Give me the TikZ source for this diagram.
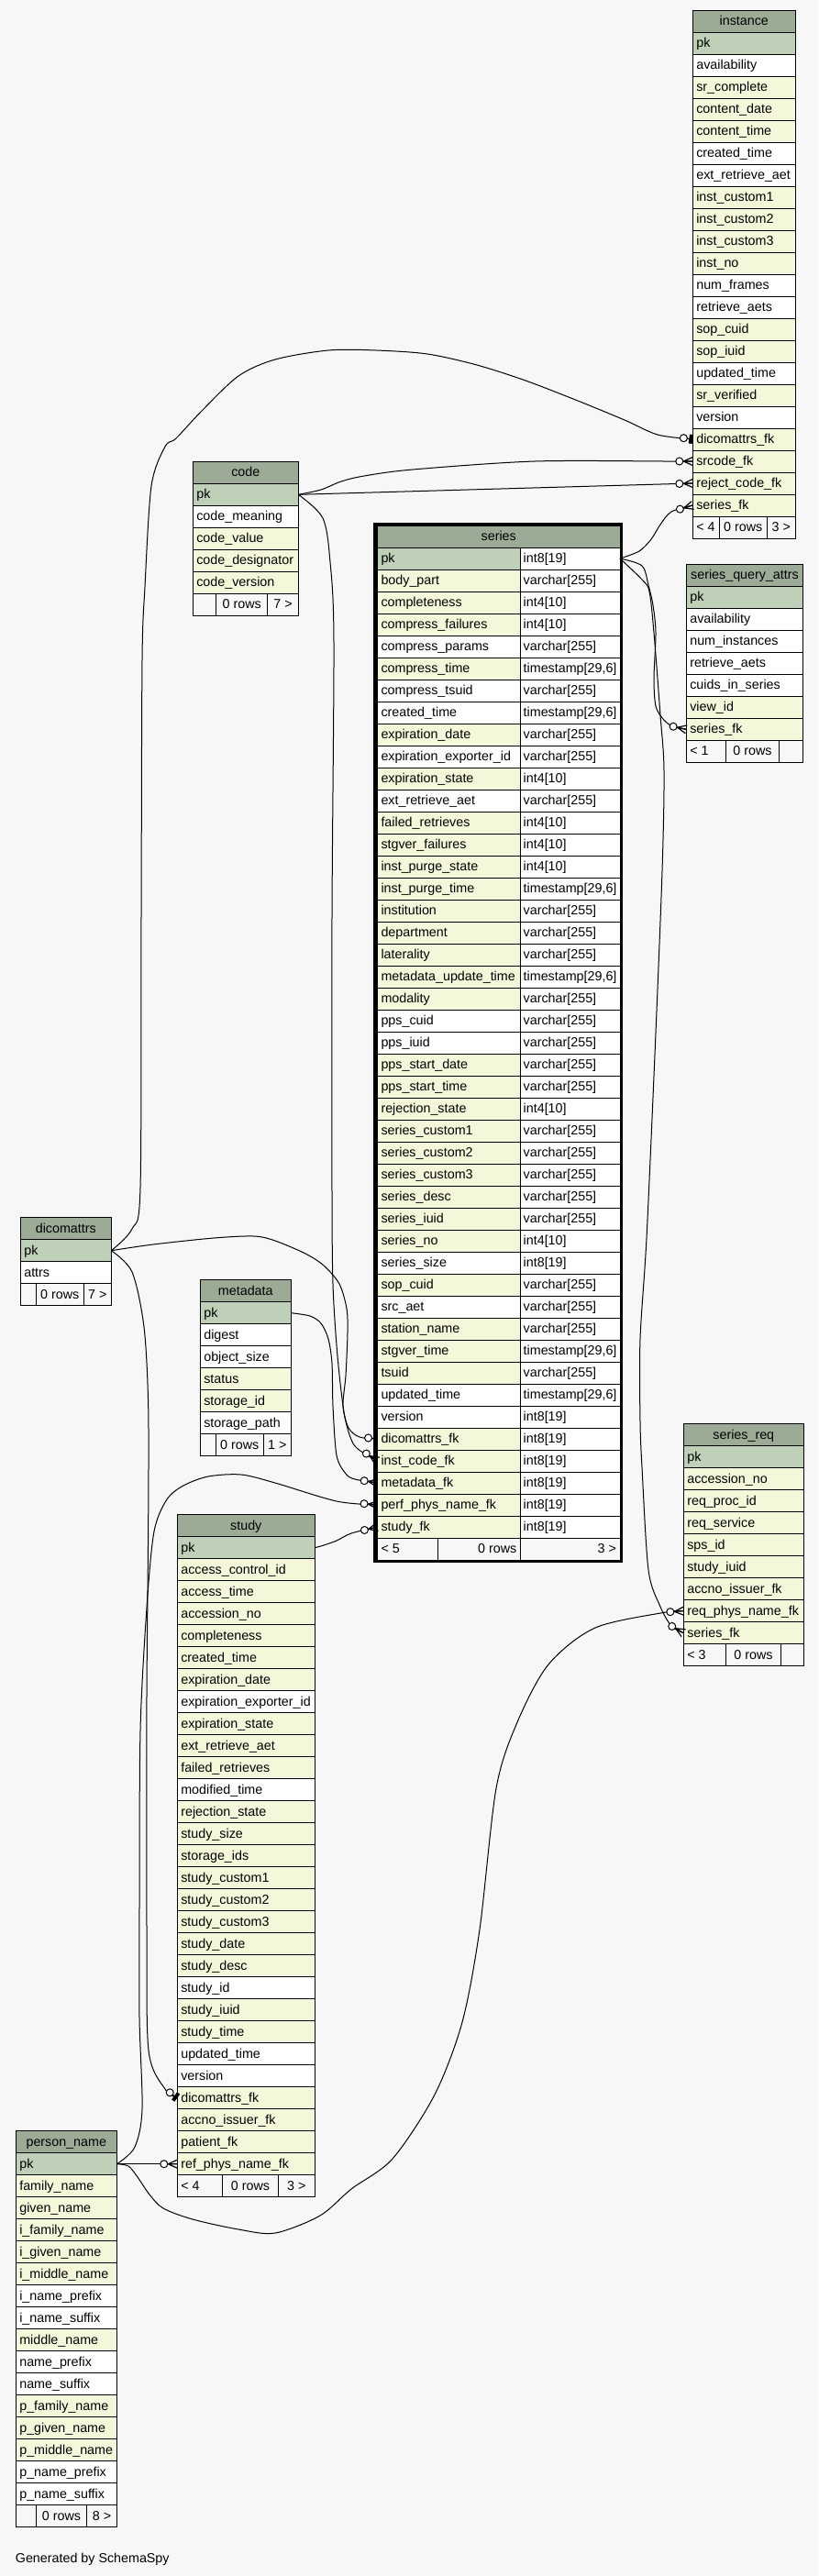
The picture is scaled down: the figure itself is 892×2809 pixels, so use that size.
\documentclass[tikz,border=0pt]{standalone}
\usepackage{fontspec}
\setmainfont{Liberation Sans}
\usetikzlibrary{calc}
\definecolor{bg}{HTML}{F7F7F7}
\definecolor{cH}{HTML}{9BAB96}
\definecolor{cG}{HTML}{BED1B8}
\definecolor{cY}{HTML}{F4F7DA}
\definecolor{cW}{HTML}{FFFFFF}
\tikzset{
 tcell/.style={draw=black, line width=1pt, anchor=north west, inner xsep=4pt, inner ysep=0pt, outer sep=0pt, minimum height=24pt, text height=10.3pt, text depth=1.7pt, font=\fontsize{14.3}{17}\selectfont},
 hcell/.style={tcell, fill=cH},
 fcell/.style={tcell, fill=bg},
 edge/.style={draw=black, line width=1pt},
 mline/.style={draw=black, line width=1.2pt},
}
\def\tsc{timestamp[29,6]}
\newcommand\dbtable[6]{%
 \pgfmathsetmacro\tabw{#4-#3}%
 \pgfmathsetmacro\tabi{#4-#3-8}%
 \node[hcell, minimum width=\tabw pt] (#1-head) at (#3,#5) {\makebox[\tabi pt][c]{#2}};%
 \foreach \rn/\rc [count=\ri] in {#6} {%
   \node[tcell, fill=\rc, minimum width=\tabw pt] (#1-\rn) at (#3,{#5+24*\ri}) {\makebox[\tabi pt][l]{\rn}};%
 }%
}
\newcommand\dbfoot[9]{%
 \pgfmathsetmacro\fwa{#3-#2}\pgfmathsetmacro\fwb{#4-#3}\pgfmathsetmacro\fwc{#5-#4}%
 \pgfmathsetmacro\fia{#3-#2-8}\pgfmathsetmacro\fib{#4-#3-8}\pgfmathsetmacro\fic{#5-#4-8}%
 \node[fcell, minimum width=\fwa pt] (#1-f1) at (#2,#6) {\makebox[\fia pt][l]{#7}};%
 \node[fcell, minimum width=\fwb pt] (#1-f2) at (#3,#6) {\makebox[\fib pt][c]{#8}};%
 \node[fcell, minimum width=\fwc pt] (#1-f3) at (#4,#6) {\makebox[\fic pt][c]{#9}};%
}
\newcommand\crowodot[2]{%
 \path ($(#1)!10pt!(#2)$) coordinate (mkA) ($(#1)!14.5pt!(#2)$) coordinate (mkC)
   ($(#1)!4.5pt!90:(#2)$) coordinate (mkP) ($(#1)!4.5pt!-90:(#2)$) coordinate (mkQ) (#1) coordinate (mkE);
 \draw[mline] (mkP) -- (mkA) -- (mkQ) (mkA) -- (mkE);
 \draw[edge, fill=white] (mkC) circle[radius=4pt];
}
\newcommand\teeodot[2]{%
 \path ($(#1)!10pt!(#2)$) coordinate (mkC) ($(#1)!4pt!(#2)$) coordinate (mkB) (#1) coordinate (mkE);
 \path ($(mkE)!5pt!90:(#2)$) coordinate (mkP) ($(mkE)!5pt!-90:(#2)$) coordinate (mkQ)
       ($(mkB)!5pt!90:(#2)$) coordinate (mkP2) ($(mkB)!5pt!-90:(#2)$) coordinate (mkQ2);
 \fill[black] (mkP) -- (mkQ) -- (mkQ2) -- (mkP2) -- cycle;
 \draw[edge] (mkB) -- (mkC);
 \draw[edge, fill=white] (mkC) circle[radius=4pt];
}
\begin{document}
\catcode`\_=12
\begin{tikzpicture}[x=1pt,y=-1pt]
\useasboundingbox (0,0) rectangle (892,2809);
\fill[bg] (0,0) rectangle (892,2809);

% ---------------- tables ----------------
\dbtable{instance}{instance}{755.3}{867.3}{11}{pk/cG, availability/cW, sr_complete/cY, content_date/cY, content_time/cY, created_time/cW, ext_retrieve_aet/cW, inst_custom1/cY, inst_custom2/cY, inst_custom3/cY, inst_no/cY, num_frames/cW, retrieve_aets/cW, sop_cuid/cY, sop_iuid/cY, updated_time/cW, sr_verified/cY, version/cW, dicomattrs_fk/cY, srcode_fk/cY, reject_code_fk/cY, series_fk/cY}
\dbfoot{instance}{755.3}{784.3}{836.3}{867.3}{563}{< 4}{0 rows}{3 >}

\dbtable{code}{code}{210.3}{325.3}{503.3}{pk/cG, code_meaning/cW, code_value/cY, code_designator/cY, code_version/cY}
\dbfoot{code}{210.3}{235.7}{291.7}{325.3}{647.3}{}{0 rows}{7 >}

\dbtable{series_query_attrs}{series_query_attrs}{748.3}{875.7}{615.3}{pk/cG, availability/cW, num_instances/cW, retrieve_aets/cW, cuids_in_series/cW, view_id/cY, series_fk/cY}
\dbfoot{series_query_attrs}{748.3}{791.3}{849.7}{875.7}{807.3}{< 1}{0 rows}{}

\dbtable{dicomattrs}{dicomattrs}{22.3}{121.3}{1327.7}{pk/cG, attrs/cW}
\dbfoot{dicomattrs}{22.3}{39.3}{91.3}{121.3}{1399.7}{}{0 rows}{7 >}

\dbtable{metadata}{metadata}{218.3}{317.3}{1395.7}{pk/cG, digest/cW, object_size/cW, status/cY, storage_id/cY, storage_path/cW}
\dbfoot{metadata}{218.3}{235.3}{287.3}{317.3}{1563.7}{}{0 rows}{1 >}

\dbtable{series_req}{series_req}{745.3}{876.3}{1552.7}{pk/cG, accession_no/cY, req_proc_id/cY, req_service/cY, sps_id/cY, study_iuid/cY, accno_issuer_fk/cY, req_phys_name_fk/cY, series_fk/cY}
\dbfoot{series_req}{745.3}{791.7}{851.3}{876.3}{1792.7}{< 3}{0 rows}{}

\dbtable{study}{study}{193.3}{343.3}{1651.7}{pk/cG, access_control_id/cY, access_time/cY, accession_no/cY, completeness/cY, created_time/cY, expiration_date/cY, expiration_exporter_id/cW, expiration_state/cY, ext_retrieve_aet/cY, failed_retrieves/cY, modified_time/cW, rejection_state/cY, study_size/cY, storage_ids/cY, study_custom1/cY, study_custom2/cY, study_custom3/cY, study_date/cY, study_desc/cY, study_id/cW, study_iuid/cY, study_time/cY, updated_time/cW, version/cW, dicomattrs_fk/cY, accno_issuer_fk/cY, patient_fk/cY, ref_phys_name_fk/cY}
\dbfoot{study}{193.3}{242.7}{303.3}{343.3}{2371.7}{< 4}{0 rows}{3 >}

\dbtable{person_name}{person_name}{17.3}{127.3}{2323.7}{pk/cG, family_name/cY, given_name/cY, i_family_name/cY, i_given_name/cY, i_middle_name/cY, i_name_prefix/cW, i_name_suffix/cW, middle_name/cY, name_prefix/cW, name_suffix/cW, p_family_name/cY, p_given_name/cY, p_middle_name/cY, p_name_prefix/cW, p_name_suffix/cW}
\dbfoot{person_name}{17.3}{39.3}{94.7}{127.3}{2731.7}{}{0 rows}{8 >}

% series (focus table, two columns)
\node[hcell, minimum width=264.5pt] (series-head) at (411.5,573) {\makebox[256.5pt][c]{series}};
\foreach \rn/\rc/\rt [count=\ri] in {pk/cG/int8[19], body_part/cY/varchar[255], completeness/cY/int4[10], compress_failures/cY/int4[10], compress_params/cW/varchar[255], compress_time/cY/\tsc, compress_tsuid/cW/varchar[255], created_time/cW/\tsc, expiration_date/cY/varchar[255], expiration_exporter_id/cW/varchar[255], expiration_state/cY/int4[10], ext_retrieve_aet/cW/varchar[255], failed_retrieves/cY/int4[10], stgver_failures/cY/int4[10], inst_purge_state/cY/int4[10], inst_purge_time/cY/\tsc, institution/cY/varchar[255], department/cY/varchar[255], laterality/cY/varchar[255], metadata_update_time/cY/\tsc, modality/cY/varchar[255], pps_cuid/cW/varchar[255], pps_iuid/cW/varchar[255], pps_start_date/cY/varchar[255], pps_start_time/cY/varchar[255], rejection_state/cY/int4[10], series_custom1/cY/varchar[255], series_custom2/cY/varchar[255], series_custom3/cY/varchar[255], series_desc/cY/varchar[255], series_iuid/cY/varchar[255], series_no/cY/int4[10], series_size/cW/int8[19], sop_cuid/cY/varchar[255], src_aet/cW/varchar[255], station_name/cY/varchar[255], stgver_time/cY/\tsc, tsuid/cY/varchar[255], updated_time/cW/\tsc, version/cW/int8[19], dicomattrs_fk/cY/int8[19], inst_code_fk/cY/int8[19], metadata_fk/cY/int8[19], perf_phys_name_fk/cY/int8[19], study_fk/cY/int8[19]} {
  \node[tcell, fill=\rc, minimum width=155.8pt] (series-\rn) at (411.5,{573+24*\ri}) {\makebox[147.8pt][l]{\rn}};
  \node[tcell, fill=cW, minimum width=108.7pt, inner xsep=3.4pt] (series-\rn-t) at (567.3,{573+24*\ri}) {\makebox[101.9pt][l]{\rt}};
}
\node[fcell, minimum width=65.8pt] (series-f1) at (411.5,1677) {\makebox[57.8pt][l]{< 5}};
\node[fcell, minimum width=90pt] (series-f2) at (477.3,1677) {\makebox[82pt][r]{0 rows}};
\node[fcell, minimum width=108.7pt] (series-f3) at (567.3,1677) {\makebox[100.7pt][r]{3 >}};
\draw[line width=3.5pt] (409.05,571.75) rectangle (677.55,1702.25);

\node[anchor=base west, inner sep=0pt, font=\fontsize{14.3}{17}\selectfont] (gen) at (16.7,2794) {Generated by SchemaSpy};

% ---------------- connectors ----------------
\draw[edge] plot[smooth, tension=0.5] coordinates {(dicomattrs-pk.east) (144,1340) (153,1295) (154,1000) (155,720) (158,640) (165,530) (180,487) (192,478) (220,448) (260,410) (300,392) (358,382) (410,382) (466,386) (520,398) (573,415) (630,437) (681,458) (717,474) (instance-dicomattrs_fk.west)};
\draw[edge] plot[smooth, tension=0.5] coordinates {(code-pk.east) (350,534) (372,525) (397,519) (450,512) (583,503) (727,503) (instance-srcode_fk.west)};
\draw[edge] (code-pk.east) -- (instance-reject_code_fk.west);
\draw[edge] plot[smooth, tension=0.5] coordinates {(series-pk-t.east) (697,601) (710,588) (720,572) (732,558) (instance-series_fk.west)};
\draw[edge] plot[smooth, tension=0.5] coordinates {(series-pk-t.east) (700,617) (707,638) (712,660) (715,690) (713,740) (715,770) (723,784) (733,792) (series_query_attrs-series_fk.west)};
\draw[edge] plot[smooth, tension=0.5] coordinates {(series-pk-t.east) (700,632) (708,645) (713,690) (720,780) (724,840) (722,950) (714,1150) (705,1350) (698,1460) (698,1550) (700,1600) (707,1712) (720,1752) (732,1773) (series_req-series_fk.west)};
\draw[edge] plot[smooth, tension=0.5] coordinates {(person_name-pk.east) (140,2362) (150,2374) (163,2393) (178,2408) (210,2420) (260,2431) (300,2435) (349,2416) (383,2387) (428,2354) (474,2284) (504,2205) (523,2104) (541,1950) (564,1878) (598,1815) (649,1775) (726,1758) (series_req-req_phys_name_fk.west)};
\draw[edge] (person_name-pk.east) -- (study-ref_phys_name_fk.west);
\draw[edge] plot[smooth, tension=0.5] coordinates {(person_name-pk.east) (146.7,2341.7) (155,2300) (152,2200) (152,2080) (153,1887) (160,1753) (168,1670) (182,1635) (200,1620) (227,1610) (263,1608) (300,1617) (367,1637) (series-perf_phys_name_fk.west)};
\draw[edge] plot[smooth, tension=0.5] coordinates {(dicomattrs-pk.east) (144,1387) (157,1447) (161.7,1533) (161.7,1660) (160,1850) (160,2100) (162,2236) (180,2278) (study-dicomattrs_fk.west)};
\draw[edge] plot[smooth, tension=0.5] coordinates {(dicomattrs-pk.east) (167,1357) (233,1350) (277,1348) (300,1353) (333,1367) (353,1380) (370,1400) (378,1427) (379,1453) (377,1500) (374,1533) (380,1557) (392,1567) (series-dicomattrs_fk.west)};
\draw[edge] plot[smooth, tension=0.5] coordinates {(code-pk.east) (352,565) (360,613) (364,700) (362,1000) (362,1300) (363,1400) (367,1467) (372,1517) (377,1550) (387,1577) (series-inst_code_fk.west)};
\draw[edge] plot[smooth, tension=0.5] coordinates {(metadata-pk.east) (338,1435) (350,1443) (358,1460) (362,1487) (363,1533) (367,1587) (377,1607) (387,1613) (series-metadata_fk.west)};
\draw[edge] plot[smooth, tension=0.5] coordinates {(study-pk.east) (353,1685) (367,1680) (383,1672) (series-study_fk.west)};

% ---------------- end markers ----------------
\teeodot{instance-dicomattrs_fk.west}{717,474}
\crowodot{instance-srcode_fk.west}{727,503}
\crowodot{instance-reject_code_fk.west}{code-pk.east}
\crowodot{instance-series_fk.west}{732,558}
\crowodot{series_query_attrs-series_fk.west}{733,792}
\crowodot{series_req-series_fk.west}{732,1773}
\crowodot{series_req-req_phys_name_fk.west}{726,1758}
\crowodot{study-ref_phys_name_fk.west}{person_name-pk.east}
\crowodot{series-perf_phys_name_fk.west}{367,1637}
\teeodot{study-dicomattrs_fk.west}{180,2278}
\teeodot{series-dicomattrs_fk.west}{392,1567}
\crowodot{series-inst_code_fk.west}{387,1577}
\crowodot{series-metadata_fk.west}{387,1613}
\crowodot{series-study_fk.west}{383,1672}
\end{tikzpicture}
\end{document}
